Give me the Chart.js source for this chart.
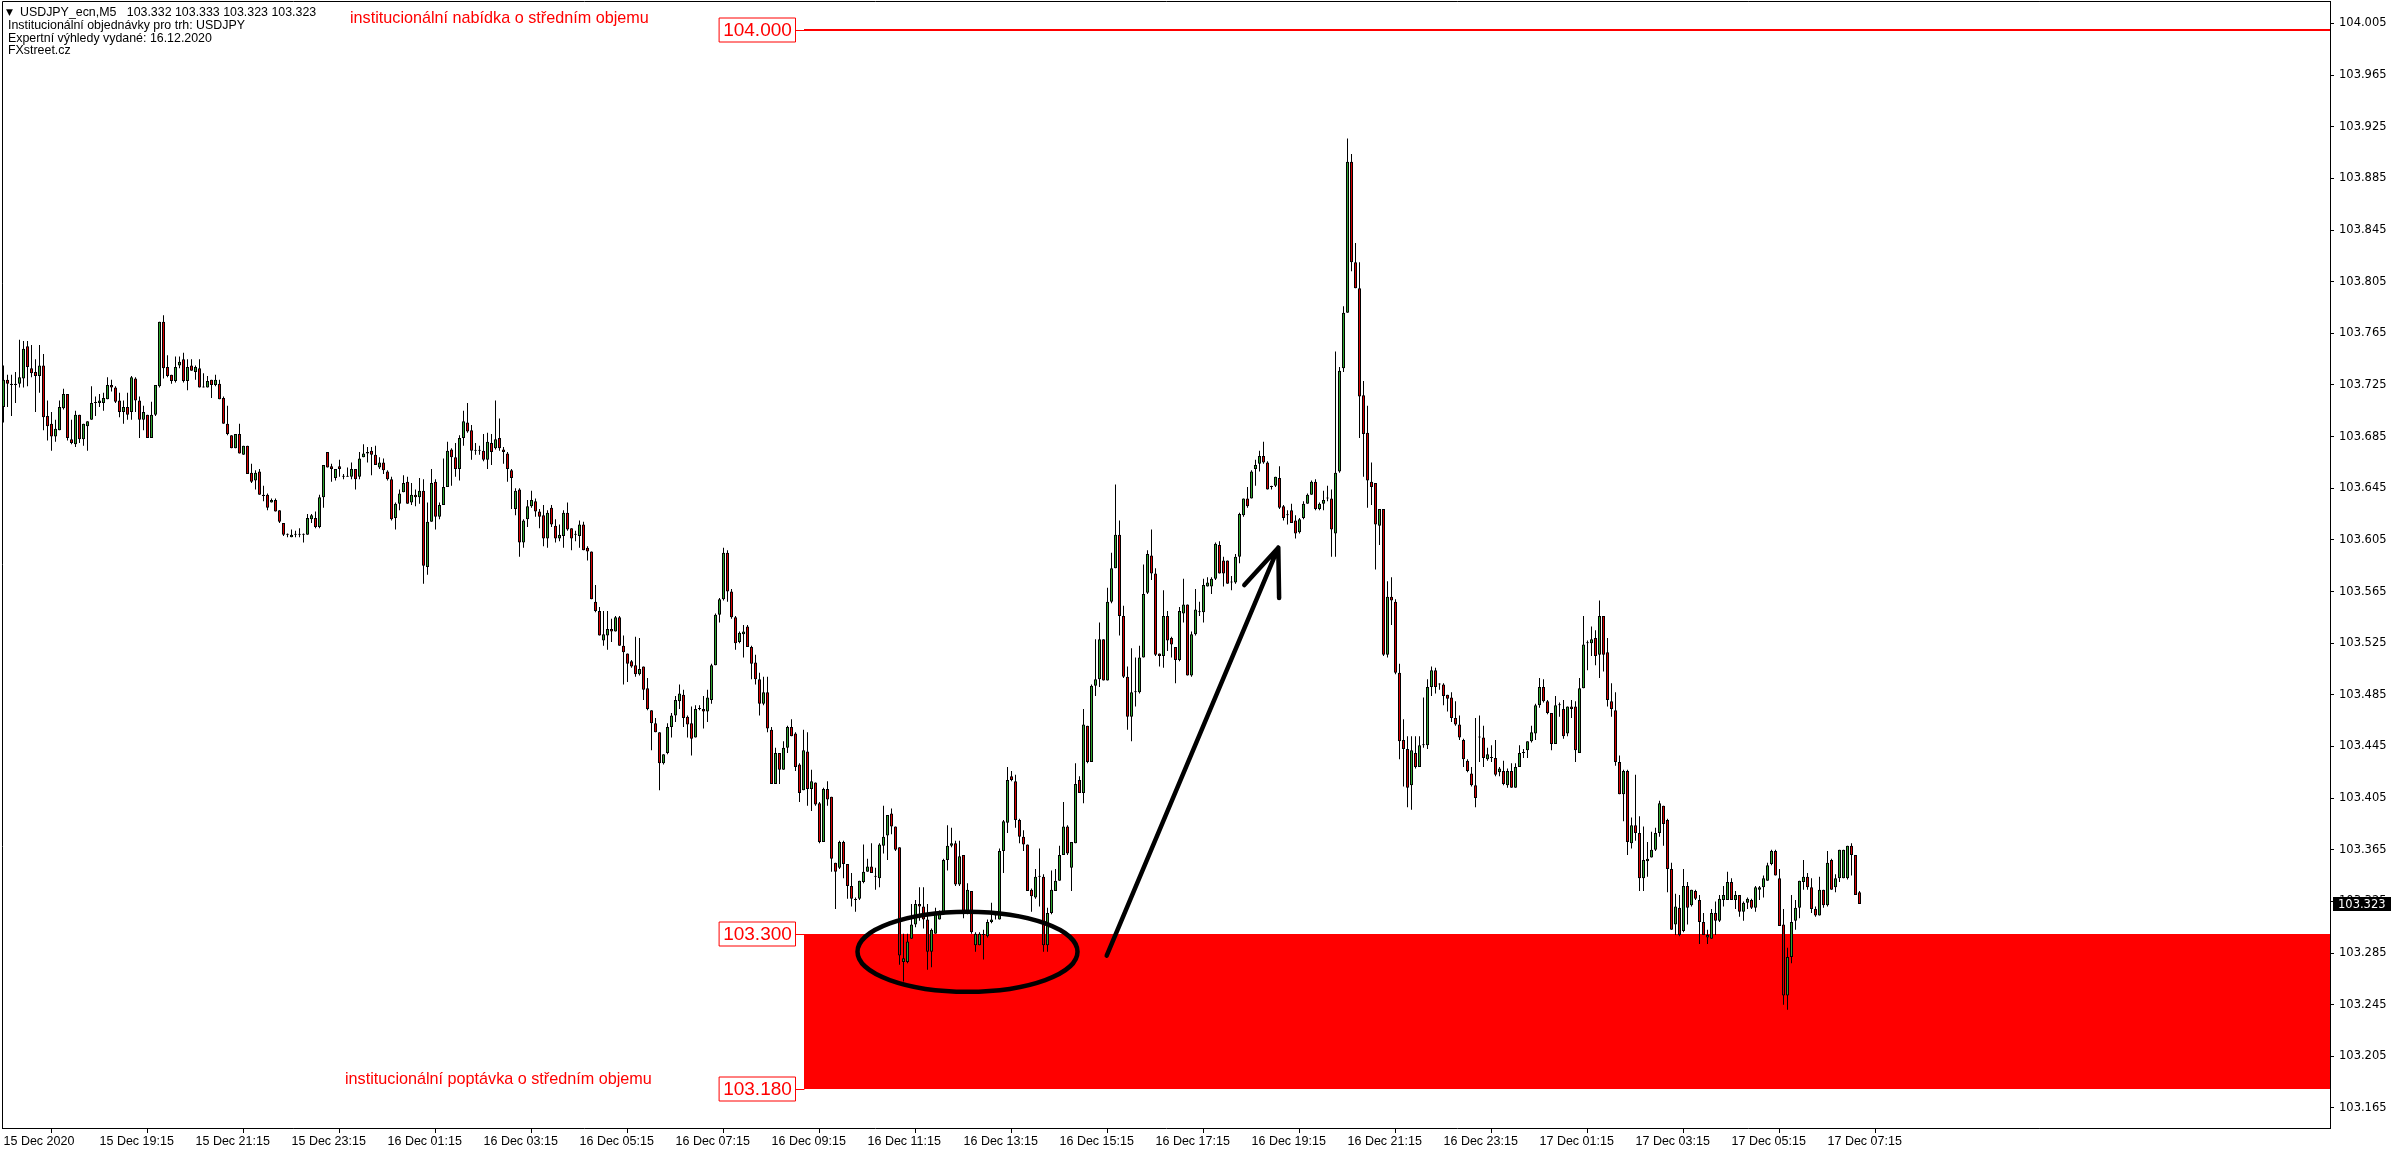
<!doctype html>
<html lang="cs">
  <head>
    <meta charset="utf-8">
    <title>USDJPY_ecn,M5</title>
    <style>
      * { margin: 0; padding: 0; }
      body { background: #ffffff; overflow: hidden; }
      canvas { display: block; }
    </style>
  </head>
  <body>
    <canvas id="myChart" width="2396" height="1154"></canvas>
    <script src="https://cdn.jsdelivr.net/npm/chart.js/dist/chart.umd.min.js"></script>
    <script>
    // USDJPY M5 candles, 15 Dec 17:15 -> 17 Dec 07:55 (one value per candle)
    const opens = [
      103.708,103.729,103.726,103.725,103.726,103.730,103.755,103.738,103.735,103.732,
      103.740,103.701,103.695,103.685,103.690,103.707,103.718,103.683,103.679,103.702,
      103.683,103.693,103.698,103.711,103.711,103.711,103.714,103.725,103.723,103.713,
      103.704,103.708,103.704,103.730,103.713,103.698,103.702,103.684,103.702,103.724,
      103.774,103.739,103.733,103.728,103.740,103.745,103.728,103.740,103.735,103.738,
      103.723,103.723,103.729,103.725,103.726,103.715,103.695,103.686,103.676,103.687,
      103.671,103.678,103.657,103.651,103.658,103.640,103.640,103.634,103.636,103.628,
      103.618,103.609,103.607,103.609,103.609,103.609,103.609,103.621,103.622,103.615,
      103.638,103.673,103.662,103.653,103.662,103.654,103.654,103.654,103.660,103.654,
      103.669,103.673,103.674,103.671,103.661,103.665,103.658,103.652,103.622,103.633,
      103.642,103.650,103.634,103.640,103.638,103.643,103.584,103.619,103.650,103.623,
      103.632,103.646,103.675,103.669,103.660,103.684,103.696,103.690,103.674,103.674,
      103.674,103.667,103.680,103.676,103.684,103.675,103.672,103.659,103.629,103.644,
      103.603,103.621,103.631,103.635,103.627,103.624,103.606,103.630,103.616,103.606,
      103.608,103.626,103.614,103.609,103.608,103.617,103.599,103.596,103.557,103.550,
      103.527,103.531,103.536,103.534,103.545,103.523,103.517,103.511,103.508,103.501,
      103.507,103.490,103.473,103.463,103.456,103.432,103.440,103.460,103.469,103.480,
      103.485,103.468,103.463,103.452,103.474,103.474,103.472,103.481,103.508,103.547,
      103.559,103.595,103.565,103.545,103.526,103.532,103.538,103.522,103.510,103.497,
      103.478,103.487,103.458,103.416,103.440,103.427,103.444,103.460,103.455,103.431,
      103.411,103.441,103.412,103.417,103.401,103.371,103.412,103.406,103.355,103.351,
      103.371,103.354,103.337,103.326,103.327,103.340,103.348,103.352,103.344,103.343,
      103.368,103.376,103.393,103.383,103.367,103.278,103.278,103.296,103.307,103.323,
      103.321,103.311,103.286,103.300,103.311,103.315,103.357,103.368,103.370,103.338,
      103.361,103.315,103.333,103.291,103.291,103.299,103.298,103.309,103.314,103.311,
      103.364,103.386,103.422,103.418,103.388,103.375,103.369,103.334,103.328,103.344,
      103.344,103.291,103.316,103.333,103.341,103.361,103.383,103.351,103.370,103.419,
      103.409,103.461,103.433,103.492,103.497,103.528,103.496,103.557,103.583,103.609,
      103.546,103.499,103.468,103.487,103.487,103.514,103.564,103.593,103.579,103.517,
      103.515,103.546,103.529,103.522,103.512,103.548,103.555,103.500,103.532,103.549,
      103.549,103.569,103.569,103.575,103.601,103.589,103.589,103.572,103.572,103.592,
      103.624,103.637,103.637,103.660,103.664,103.670,103.665,103.646,103.647,103.653,
      103.631,103.624,103.628,103.620,103.611,103.622,103.633,103.640,103.650,103.629,
      103.633,103.637,103.637,103.610,103.658,103.738,103.781,103.898,103.820,103.800,
      103.717,103.688,103.650,103.649,103.616,103.629,103.516,103.561,103.557,103.502,
      103.450,103.443,103.415,103.440,103.429,103.446,103.446,103.491,103.504,103.493,
      103.493,103.485,103.483,103.467,103.462,103.450,103.434,103.424,103.415,103.452,
      103.452,103.435,103.436,103.436,103.425,103.426,103.415,103.426,103.413,103.429,
      103.440,103.442,103.449,103.455,103.477,103.491,103.480,103.471,103.447,103.477,
      103.474,103.455,103.476,103.476,103.440,103.490,103.525,103.525,103.529,103.516,
      103.546,103.518,103.480,103.473,103.433,103.408,103.426,103.370,103.384,103.378,
      103.343,103.356,103.359,103.365,103.378,103.399,103.388,103.350,103.307,103.320,
      103.302,103.337,103.322,103.333,103.326,103.309,103.297,103.296,103.316,103.310,
      103.326,103.326,103.340,103.326,103.330,103.317,103.324,103.326,103.320,103.334,
      103.336,103.341,103.354,103.364,103.343,103.307,103.252,103.282,103.310,103.320,
      103.340,103.344,103.336,103.319,103.314,103.334,103.322,103.357,103.336,103.343,
      103.343,103.343,103.368,103.361,103.332
    ];
    const highs = [
      103.740,103.733,103.733,103.735,103.760,103.759,103.759,103.756,103.745,103.756,
      103.749,103.713,103.704,103.698,103.713,103.722,103.718,103.698,103.705,103.702,
      103.695,103.697,103.724,103.716,103.718,103.719,103.731,103.729,103.724,103.719,
      103.713,103.719,103.732,103.731,103.716,103.709,103.702,103.712,103.725,103.774,
      103.779,103.748,103.733,103.747,103.747,103.750,103.745,103.745,103.740,103.745,
      103.734,103.732,103.729,103.733,103.729,103.716,103.709,103.686,103.687,103.695,
      103.678,103.678,103.664,103.659,103.660,103.647,103.641,103.637,103.637,103.628,
      103.618,103.610,103.613,103.612,103.614,103.610,103.625,103.625,103.627,103.640,
      103.663,103.673,103.664,103.660,103.667,103.656,103.661,103.665,103.660,103.673,
      103.679,103.677,103.677,103.678,103.669,103.668,103.659,103.654,103.634,103.644,
      103.655,103.654,103.649,103.644,103.653,103.652,103.634,103.660,103.652,103.634,
      103.668,103.681,103.676,103.680,103.686,103.705,103.711,103.694,103.680,103.678,
      103.687,103.688,103.687,103.713,103.699,103.677,103.673,103.660,103.645,103.645,
      103.621,103.636,103.643,103.637,103.629,103.632,103.628,103.632,103.621,103.617,
      103.628,103.634,103.614,103.612,103.620,103.619,103.600,103.596,103.570,103.553,
      103.550,103.550,103.544,103.546,103.546,103.531,103.517,103.512,103.530,103.529,
      103.507,103.498,103.473,103.467,103.456,103.439,103.463,103.471,103.484,103.493,
      103.489,103.469,103.476,103.477,103.477,103.484,103.489,103.509,103.548,103.560,
      103.599,103.597,103.567,103.546,103.534,103.539,103.539,103.523,103.516,103.502,
      103.499,103.499,103.460,103.444,103.440,103.449,103.461,103.466,103.456,103.432,
      103.458,103.456,103.427,103.417,103.402,103.413,103.418,103.406,103.355,103.372,
      103.372,103.354,103.347,103.328,103.341,103.369,103.358,103.370,103.351,103.370,
      103.399,103.392,103.397,103.383,103.367,103.300,103.300,103.323,103.326,103.336,
      103.336,103.323,103.304,103.320,103.318,103.358,103.384,103.382,103.372,103.372,
      103.361,103.339,103.333,103.301,103.301,103.303,103.311,103.324,103.315,103.366,
      103.388,103.429,103.426,103.423,103.389,103.380,103.369,103.335,103.350,103.366,
      103.346,103.320,103.349,103.350,103.368,103.402,103.384,103.371,103.432,103.422,
      103.474,103.461,103.493,103.528,103.541,103.528,103.568,103.595,103.648,103.620,
      103.554,103.507,103.521,103.514,103.523,103.586,103.597,103.613,103.583,103.517,
      103.566,103.550,103.530,103.522,103.553,103.575,103.555,103.534,103.567,103.557,
      103.575,103.576,103.576,103.603,103.604,103.592,103.589,103.577,103.594,103.626,
      103.637,103.646,103.659,103.667,103.674,103.681,103.666,103.647,103.654,103.662,
      103.632,103.628,103.633,103.624,103.622,103.635,103.641,103.651,103.652,103.634,
      103.643,103.647,103.644,103.751,103.739,103.786,103.916,103.904,103.835,103.820,
      103.728,103.709,103.665,103.649,103.629,103.629,103.573,103.576,103.559,103.509,
      103.466,103.453,103.453,103.453,103.453,103.483,103.497,103.507,103.506,103.494,
      103.494,103.485,103.487,103.480,103.469,103.451,103.435,103.429,103.467,103.469,
      103.461,103.444,103.446,103.450,103.429,103.434,103.428,103.432,103.432,103.446,
      103.443,103.449,103.461,103.478,103.498,103.497,103.481,103.471,103.484,103.479,
      103.481,103.476,103.481,103.480,103.498,103.546,103.527,103.538,103.535,103.558,
      103.546,103.529,103.494,103.487,103.438,103.427,103.427,103.390,103.423,103.391,
      103.383,103.371,103.379,103.382,103.403,103.399,103.389,103.355,103.331,103.330,
      103.350,103.340,103.334,103.334,103.330,103.316,103.303,103.319,103.325,103.330,
      103.337,103.348,103.343,103.333,103.330,103.325,103.328,103.327,103.337,103.337,
      103.345,103.355,103.365,103.365,103.350,103.319,103.289,103.330,103.326,103.341,
      103.357,103.347,103.343,103.321,103.344,103.334,103.364,103.358,103.346,103.365,
      103.365,103.368,103.370,103.361,103.333
    ];
    const lows = [
      103.696,103.708,103.701,103.711,103.723,103.723,103.724,103.731,103.704,103.719,
      103.690,103.682,103.674,103.681,103.690,103.706,103.682,103.679,103.677,103.680,
      103.678,103.674,103.698,103.701,103.708,103.705,103.714,103.720,103.711,103.700,
      103.695,103.698,103.698,103.704,103.684,103.690,103.684,103.684,103.701,103.723,
      103.730,103.731,103.726,103.727,103.738,103.727,103.721,103.736,103.729,103.723,
      103.723,103.723,103.715,103.724,103.714,103.695,103.686,103.676,103.676,103.672,
      103.671,103.656,103.649,103.644,103.640,103.635,103.628,103.634,103.627,103.618,
      103.608,103.607,103.607,103.607,103.607,103.603,103.609,103.618,103.614,103.614,
      103.630,103.661,103.650,103.651,103.654,103.652,103.654,103.652,103.644,103.652,
      103.669,103.665,103.655,103.663,103.660,103.656,103.651,103.620,103.613,103.628,
      103.642,103.633,103.632,103.631,103.633,103.571,103.578,103.619,103.613,103.621,
      103.632,103.646,103.647,103.654,103.651,103.678,103.688,103.667,103.671,103.671,
      103.666,103.660,103.663,103.675,103.674,103.664,103.650,103.629,103.624,103.592,
      103.599,103.615,103.630,103.623,103.614,103.600,103.599,103.615,103.603,103.604,
      103.599,103.612,103.597,103.604,103.599,103.597,103.589,103.559,103.549,103.531,
      103.523,103.520,103.526,103.534,103.523,103.493,103.495,103.506,103.499,103.500,
      103.481,103.473,103.442,103.456,103.411,103.431,103.439,103.452,103.464,103.474,
      103.460,103.452,103.438,103.452,103.473,103.459,103.464,103.478,103.508,103.541,
      103.558,103.557,103.544,103.520,103.525,103.514,103.522,103.497,103.493,103.469,
      103.477,103.456,103.416,103.416,103.416,103.427,103.440,103.453,103.426,103.402,
      103.411,103.399,103.395,103.399,103.370,103.371,103.399,103.348,103.319,103.350,
      103.343,103.327,103.321,103.317,103.326,103.339,103.348,103.347,103.334,103.336,
      103.362,103.357,103.377,103.364,103.276,103.263,103.277,103.296,103.305,103.310,
      103.304,103.272,103.274,103.300,103.311,103.315,103.349,103.367,103.337,103.337,
      103.312,103.315,103.300,103.286,103.291,103.280,103.297,103.308,103.311,103.311,
      103.347,103.378,103.418,103.382,103.370,103.364,103.333,103.317,103.327,103.321,
      103.286,103.286,103.315,103.333,103.341,103.361,103.361,103.333,103.370,103.409,
      103.401,103.432,103.433,103.484,103.491,103.496,103.496,103.556,103.583,103.531,
      103.498,103.458,103.449,103.476,103.486,103.514,103.563,103.574,103.515,103.507,
      103.506,103.519,103.514,103.494,103.511,103.541,103.500,103.499,103.531,103.546,
      103.541,103.569,103.563,103.574,103.579,103.569,103.571,103.566,103.571,103.587,
      103.623,103.630,103.637,103.647,103.658,103.664,103.644,103.644,103.646,103.629,
      103.620,103.617,103.618,103.606,103.610,103.621,103.633,103.640,103.628,103.628,
      103.628,103.635,103.592,103.592,103.657,103.735,103.781,103.813,103.800,103.684,
      103.654,103.630,103.632,103.582,103.601,103.515,103.514,103.539,103.501,103.435,
      103.414,103.398,103.396,103.428,103.429,103.444,103.443,103.484,103.486,103.489,
      103.477,103.472,103.464,103.461,103.450,103.429,103.425,103.414,103.398,103.433,
      103.429,103.434,103.433,103.422,103.422,103.415,103.413,103.413,103.413,103.429,
      103.436,103.436,103.448,103.450,103.475,103.479,103.470,103.442,103.447,103.468,
      103.451,103.453,103.467,103.433,103.440,103.490,103.504,103.515,103.508,103.498,
      103.503,103.476,103.468,103.430,103.408,103.387,103.361,103.366,103.372,103.333,
      103.333,103.344,103.359,103.364,103.375,103.368,103.332,103.303,103.299,103.298,
      103.301,103.307,103.321,103.326,103.292,103.299,103.292,103.296,103.299,103.309,
      103.321,103.326,103.326,103.319,103.313,103.310,103.319,103.319,103.317,103.326,
      103.328,103.341,103.353,103.345,103.306,103.245,103.241,103.277,103.303,103.312,
      103.334,103.334,103.316,103.313,103.314,103.320,103.321,103.334,103.332,103.340,
      103.343,103.342,103.345,103.330,103.323
    ];
    const closes = [
      103.729,103.726,103.725,103.726,103.731,103.753,103.739,103.734,103.732,103.740,
      103.700,103.693,103.685,103.691,103.708,103.718,103.684,103.680,103.702,103.683,
      103.695,103.697,103.711,103.711,103.713,103.715,103.725,103.723,103.712,103.704,
      103.708,103.702,103.731,103.713,103.698,103.704,103.684,103.702,103.725,103.774,
      103.738,103.732,103.728,103.739,103.743,103.728,103.739,103.736,103.739,103.723,
      103.723,103.728,103.725,103.729,103.714,103.695,103.687,103.676,103.687,103.672,
      103.678,103.656,103.650,103.657,103.640,103.639,103.630,103.636,103.627,103.619,
      103.609,103.609,103.609,103.609,103.609,103.609,103.622,103.624,103.615,103.638,
      103.663,103.661,103.660,103.660,103.660,103.654,103.654,103.660,103.652,103.668,
      103.672,103.672,103.671,103.663,103.665,103.659,103.652,103.621,103.633,103.641,
      103.649,103.633,103.640,103.638,103.643,103.585,103.619,103.649,103.623,103.632,
      103.646,103.674,103.669,103.660,103.684,103.697,103.689,103.674,103.674,103.674,
      103.667,103.681,103.673,103.683,103.676,103.673,103.660,103.653,103.643,103.603,
      103.620,103.631,103.636,103.627,103.623,103.606,103.626,103.617,103.606,103.609,
      103.626,103.613,103.606,103.609,103.617,103.597,103.596,103.559,103.550,103.531,
      103.532,103.536,103.534,103.545,103.523,103.518,103.509,103.507,103.501,103.505,
      103.489,103.474,103.463,103.456,103.432,103.439,103.460,103.469,103.481,103.486,
      103.467,103.462,103.451,103.474,103.474,103.472,103.483,103.508,103.547,103.559,
      103.595,103.565,103.545,103.525,103.533,103.534,103.522,103.509,103.497,103.478,
      103.487,103.459,103.416,103.440,103.427,103.444,103.460,103.453,103.429,103.409,
      103.442,103.412,103.418,103.400,103.371,103.412,103.404,103.358,103.348,103.371,
      103.354,103.337,103.327,103.326,103.341,103.348,103.352,103.347,103.344,103.369,
      103.375,103.392,103.383,103.365,103.283,103.281,103.294,103.307,103.323,103.321,
      103.311,103.286,103.303,103.317,103.317,103.357,103.368,103.370,103.338,103.360,
      103.315,103.334,103.301,103.300,103.300,103.299,103.309,103.311,103.314,103.364,
      103.387,103.419,103.419,103.388,103.375,103.369,103.333,103.329,103.344,103.344,
      103.291,103.316,103.334,103.341,103.361,103.383,103.362,103.371,103.416,103.409,
      103.462,103.433,103.492,103.497,103.528,103.496,103.557,103.583,103.609,103.546,
      103.499,103.468,103.487,103.487,103.514,103.563,103.594,103.579,103.516,103.515,
      103.546,103.527,103.524,103.512,103.550,103.555,103.500,103.532,103.551,103.549,
      103.570,103.572,103.575,103.602,103.579,103.579,103.571,103.572,103.592,103.625,
      103.637,103.631,103.658,103.663,103.670,103.665,103.644,103.646,103.654,103.630,
      103.622,103.624,103.618,103.610,103.621,103.633,103.640,103.650,103.629,103.633,
      103.636,103.637,103.613,103.657,103.736,103.781,103.898,103.820,103.800,103.716,
      103.687,103.651,103.646,103.617,103.629,103.516,103.561,103.558,103.502,103.449,
      103.443,103.413,103.442,103.429,103.446,103.446,103.491,103.504,103.491,103.493,
      103.484,103.482,103.467,103.462,103.452,103.435,103.426,103.415,103.405,103.452,
      103.436,103.439,103.436,103.423,103.428,103.416,103.426,103.413,103.429,103.440,
      103.440,103.449,103.456,103.477,103.491,103.480,103.471,103.447,103.477,103.477,
      103.453,103.476,103.474,103.442,103.490,103.524,103.525,103.528,103.515,103.546,
      103.516,103.481,103.474,103.433,103.408,103.426,103.371,103.384,103.378,103.343,
      103.357,103.358,103.365,103.378,103.401,103.385,103.350,103.303,103.321,103.299,
      103.337,103.320,103.334,103.327,103.309,103.299,103.299,103.316,103.310,103.327,
      103.330,103.340,103.326,103.330,103.317,103.324,103.327,103.320,103.336,103.336,
      103.343,103.353,103.364,103.345,103.306,103.252,103.282,103.309,103.320,103.341,
      103.344,103.336,103.319,103.314,103.334,103.322,103.355,103.334,103.343,103.365,
      103.365,103.368,103.361,103.330,103.323
    ];

    // time axis: candle index of each label and its text
    const timeTickCandles = [0, 24, 48, 72, 96, 120, 144, 168, 192, 216, 240, 264, 288, 312, 336, 360, 384, 408, 432, 456];
    const timeTickLabels = [
      '15 Dec 2020', '15 Dec 19:15', '15 Dec 21:15', '15 Dec 23:15', '16 Dec 01:15',
      '16 Dec 03:15', '16 Dec 05:15', '16 Dec 07:15', '16 Dec 09:15', '16 Dec 11:15',
      '16 Dec 13:15', '16 Dec 15:15', '16 Dec 17:15', '16 Dec 19:15', '16 Dec 21:15',
      '16 Dec 23:15', '17 Dec 01:15', '17 Dec 03:15', '17 Dec 05:15', '17 Dec 07:15'
    ];
    const priceTicks = [
      103.165, 103.205, 103.245, 103.285, 103.325, 103.365, 103.405, 103.445, 103.485, 103.525, 103.565,
      103.605, 103.645, 103.685, 103.725, 103.765, 103.805, 103.845, 103.885, 103.925, 103.965, 104.005
    ];

    // annotation levels
    const supplyLevel = 104.000;
    const demandZone = [103.300, 103.180];
    const zoneStartCandle = 200;
    const supplyText = 'institucionální nabídka o středním objemu';
    const demandText = 'institucionální poptávka o středním objemu';
    const headerLines = ['Institucionální objednávky pro trh: USDJPY', 'Expertní výhledy vydané: 16.12.2020', 'FXstreet.cz'];

    const upColor = '#2ea42e';
    const downColor = '#d80000';
    const last = closes.length - 1;

    const wickData = lows.map((l, i) => ({x: i, y: [l, highs[i]]}));
    const bodyData = opens.map((o, i) => ({x: i, y: [o, closes[i]]}));

    // setup (bodies have the lower order so they are painted over the wicks)
    const data = {
      datasets: [{
        label: 'bodies',
        order: 1,
        data: bodyData,
        backgroundColor: (c) => {
          const i = c.dataIndex;
          if (i === undefined) return upColor;
          return closes[i] >= opens[i] ? upColor : downColor;
        },
        borderColor: '#000000',
        borderWidth: 1,
        borderSkipped: false,
        barThickness: 3,
        maxBarThickness: 3,
        minBarLength: 1,
        inflateAmount: 0,
        grouped: false
      }, {
        label: 'wicks',
        order: 2,
        data: wickData,
        backgroundColor: '#000000',
        borderWidth: 0,
        barThickness: 1,
        maxBarThickness: 1,
        inflateAmount: 0,
        grouped: false
      }]
    };

    const fontName = '"Liberation Sans", Arial, sans-serif';
    const axisFont = '"DejaVu Sans", Verdana, sans-serif';

    // drawings on top of the chart
    const overlay = {
      id: 'overlay',
      beforeDatasetsDraw(chart) {
        const {ctx, chartArea: a, scales: {x, y}} = chart;
        const x0 = Math.round(x.getPixelForValue(zoneStartCandle));
        const yTop = Math.round(y.getPixelForValue(demandZone[0]));
        const yBot = Math.round(y.getPixelForValue(demandZone[1]));
        ctx.save();
        ctx.fillStyle = '#ff0000';
        ctx.fillRect(x0, yTop, a.right - x0, yBot - yTop);
        const yS = Math.round(y.getPixelForValue(supplyLevel));
        ctx.fillRect(x0, yS - 1, a.right - x0, 2);
        ctx.restore();
      },
      afterDatasetsDraw(chart) {
        const {ctx, scales: {x, y}} = chart;
        ctx.save();
        // ellipse around the lows
        const cx = x.getPixelForValue(241), cy = y.getPixelForValue(103.286);
        const rx = x.getPixelForValue(268.5) - cx;
        const ry = y.getPixelForValue(103.255) - cy;
        ctx.strokeStyle = '#000000';
        ctx.lineWidth = 4.5;
        ctx.beginPath();
        ctx.ellipse(cx, cy, rx, ry, 0, 0, Math.PI * 2);
        ctx.stroke();
        // arrow
        const p = (i, v) => [x.getPixelForValue(i), y.getPixelForValue(v)];
        const a0 = p(275.8, 103.283), a1 = p(318.7, 103.599);
        const b1 = p(310.2, 103.570), b2 = p(318.9, 103.560);
        ctx.lineWidth = 4.5;
        ctx.lineCap = 'round';
        ctx.lineJoin = 'round';
        ctx.beginPath();
        ctx.moveTo(a0[0], a0[1]); ctx.lineTo(a1[0], a1[1]);
        ctx.moveTo(b1[0], b1[1]); ctx.lineTo(a1[0], a1[1]); ctx.lineTo(b2[0], b2[1]);
        ctx.stroke();

        // price labels of the levels
        const x0 = Math.round(x.getPixelForValue(zoneStartCandle));
        [supplyLevel, demandZone[0], demandZone[1]].forEach(v => {
          const yy = Math.round(y.getPixelForValue(v));
          const w = 77, h = 25, right = x0 - 8;
          ctx.fillStyle = '#ffffff';
          ctx.fillRect(right - w, yy - h / 2, w, h);
          ctx.strokeStyle = '#ff0000';
          ctx.lineWidth = 1;
          ctx.strokeRect(right - w + 0.5, yy - h / 2 + 0.5, w - 1, h - 1);
          ctx.beginPath();
          ctx.moveTo(right, yy + 0.5); ctx.lineTo(x0, yy + 0.5);
          ctx.stroke();
          ctx.fillStyle = '#ff0000';
          ctx.font = '19px ' + fontName;
          ctx.textAlign = 'center';
          ctx.textBaseline = 'middle';
          ctx.fillText(v.toFixed(3), right - w / 2, yy + 1);
        });

        ctx.font = '16.2px ' + fontName;
        ctx.textAlign = 'left';
        ctx.textBaseline = 'middle';
        ctx.fillStyle = '#ff0000';
        ctx.fillText(supplyText, 350, 19);
        ctx.fillText(demandText, 345, 1080);
        ctx.restore();
      },
      afterDraw(chart) {
        const {ctx, chartArea: a, scales: {y}} = chart;
        ctx.save();
        // frame (left/top)
        ctx.strokeStyle = '#000000';
        ctx.lineWidth = 1;
        ctx.beginPath();
        ctx.moveTo(a.left + 0.5, a.bottom); ctx.lineTo(a.left + 0.5, a.top + 0.5); ctx.lineTo(a.right, a.top + 0.5);
        ctx.stroke();
        // header
        ctx.fillStyle = '#000000';
        ctx.textAlign = 'left';
        ctx.textBaseline = 'middle';
        ctx.font = '9px "DejaVu Sans"';
        ctx.fillText('▼', 6, 13);
        ctx.font = '12.4px ' + fontName;
        ctx.fillText('USDJPY_ecn,M5   ' + [opens[last], highs[last], lows[last], closes[last]].map(v => v.toFixed(3)).join(' '), 20, 13);
        headerLines.forEach((t, k) => ctx.fillText(t, 8, 26 + k * 12.3));
        // current price tag
        const yc = Math.round(y.getPixelForValue(closes[last]));
        ctx.fillStyle = '#000000';
        ctx.fillRect(a.right + 3, yc - 7, 58, 14);
        ctx.fillStyle = '#ffffff';
        ctx.font = '11.5px ' + axisFont;
        ctx.fillText(closes[last].toFixed(3), a.right + 8, yc + 1);
        ctx.restore();
      }
    };

    // config
    const config = {
      type: 'bar',
      data,
      options: {
        responsive: false,
        animation: false,
        devicePixelRatio: 1,
        layout: { padding: { left: 2, top: 1, right: 0, bottom: 0 } },
        plugins: {
          legend: { display: false },
          tooltip: { enabled: false },
          title: { display: false }
        },
        scales: {
          x: {
            type: 'linear',
            min: -0.375,
            max: 581.625,
            offset: false,
            afterBuildTicks: (s) => { s.ticks = timeTickCandles.map(v => ({value: v})); },
            afterFit: (s) => { s.height = 26; s.paddingLeft = 0; s.paddingRight = 0; },
            ticks: {
              autoSkip: false,
              maxRotation: 0,
              align: 'start',
              padding: 1,
              color: '#000000',
              font: { family: fontName, size: 12.5 },
              callback: (v, k) => timeTickLabels[k]
            },
            grid: { drawOnChartArea: false, drawTicks: true, tickLength: 5, color: '#000000' },
            border: { display: true, color: '#000000', width: 1 }
          },
          y: {
            position: 'right',
            min: 103.14946,
            max: 104.02243,
            afterBuildTicks: (s) => { s.ticks = priceTicks.map(v => ({value: v})); },
            afterFit: (s) => { s.width = 66; s.paddingTop = 0; s.paddingBottom = 0; },
            ticks: {
              padding: 5,
              color: '#000000',
              font: { family: axisFont, size: 11.5 },
              callback: (v) => v.toFixed(3)
            },
            grid: { drawOnChartArea: false, drawTicks: true, tickLength: 4, color: '#000000' },
            border: { display: true, color: '#000000', width: 1 }
          }
        }
      },
      plugins: [overlay]
    };

    // render init block
    const myChart = new Chart(
      document.getElementById('myChart'),
      config
    );
    </script>
  </body>
</html>
